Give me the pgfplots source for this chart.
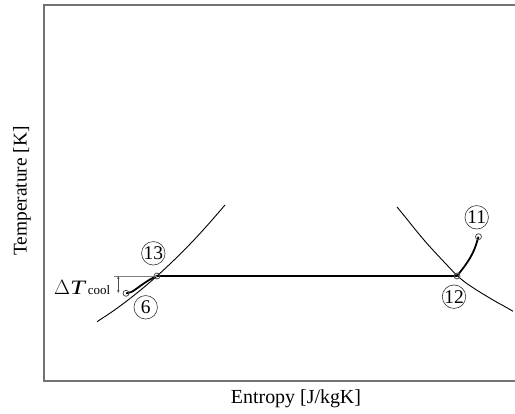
\documentclass[border=0pt]{standalone}
\usepackage{fontspec}
\setmainfont{Liberation Serif}
\usepackage{pgfplots}
\pgfplotsset{compat=1.18}
\usetikzlibrary{arrows.meta}

\tikzset{label circ/.style={circle, draw=black!80, line width=0.6pt, inner sep=0pt, minimum size=23.5bp,
                            font=\fontsize{19.5}{22}\selectfont}}

% T-s diagram of the condenser side of the cycle
\begin{document}
\begin{tikzpicture}
\path[use as bounding box] (-44bp,-33bp) rectangle (471bp,381bp);
\begin{axis}[
  scale only axis,
  width=471bp, height=376bp,
  xmin=44, xmax=515, ymin=33, ymax=409,
  xtick=\empty, ytick=\empty,
  axis line style={draw=none},
  clip=false,
  xlabel={Entropy [J/kgK]},
  ylabel={Temperature [K]},
  xlabel style={at={(axis description cs:0.535,-0.048)}, anchor=center, font=\fontsize{20}{24}\selectfont},
  ylabel style={at={(axis description cs:-0.047,0.505)}, anchor=center, font=\fontsize{19.5}{23}\selectfont},
]
% frame: left, top and bottom sides
\draw[black!55, line width=1.1pt] (rel axis cs:1,1) -- (rel axis cs:0,1) -- (rel axis cs:0,0) -- (rel axis cs:1,0);

% saturated liquid line
\addplot[black, line width=0.9pt, smooth] coordinates {
  (97,92.3) (113,102.9) (129,114.7) (145,127.6) (161,141.6)
  (177,156.8) (193,173.0) (209,190.5) (225,209.0)};
% saturated vapour line
\addplot[black, line width=0.9pt, smooth] coordinates {
  (397,207) (405,197.3) (413,187.3) (420,178.7) (427,170.5) (434,162.8)
  (441,155.3) (449,146.8) (457,138.5) (465,131.8) (473,126.3) (481,121.2)
  (490,115.8) (497,111.7) (504,107.9) (513,102.7)};

% condensation 12 -> 13
\addplot[black, line width=1.8pt] coordinates {(157,138) (457,138)};
% desuperheating 11 -> 12
\addplot[black, line width=1.8pt, smooth] coordinates {
  (457,138) (464,147) (470,156) (474.5,165) (477.5,174) (478.5,177.3)};
% subcooling 13 -> 6
\addplot[black, line width=1.8pt, smooth] coordinates {
  (126,120.7) (132,122.3) (143,130) (150,134.5) (157,138)};

% state points
\addplot[only marks, mark=o, mark size=3pt, mark options={draw=black!70, fill=white, line width=0.8pt}]
  coordinates {(157,138) (126,120.7) (457,138) (478.5,177.3)};

% subcooling indicator
\addplot[black!50, line width=0.5pt] coordinates {(114,138) (157,138)};
\draw[black!70, line width=0.5pt, {Stealth[length=3pt,width=2.5pt]}-{Stealth[length=3pt,width=2.5pt]}]
  (axis cs:118.3,138) -- (axis cs:118.3,121);
\node[anchor=base west, inner sep=0pt] at (axis cs:54,119)
  {\fontsize{20.5}{24}\selectfont$\Delta$\scalebox{1.3}[1]{\textit{T}}\hspace{1.5bp}\fontsize{13}{15}\selectfont cool};

% state labels
\node[label circ] at (axis cs:153.3,160.7) {13};
\node[label circ] at (axis cs:145.7,106.7) {6};
\node[label circ] at (axis cs:454,117.3) {12};
\node[label circ] at (axis cs:476.7,196.7) {11};
\end{axis}
\end{tikzpicture}
\end{document}
